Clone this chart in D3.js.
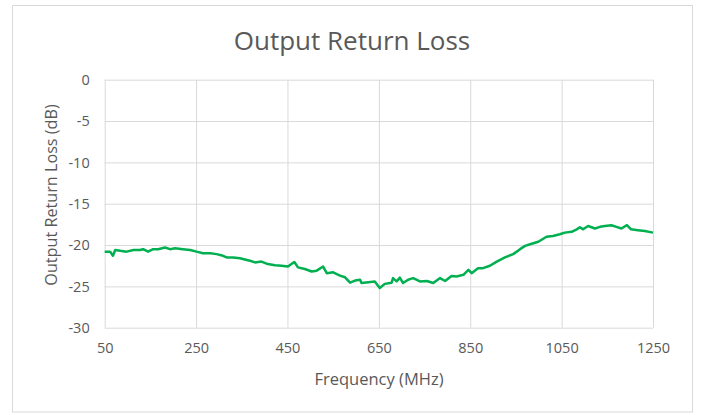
<!DOCTYPE html>
<html><head><meta charset="utf-8">
<script src="https://cdn.jsdelivr.net/npm/d3@7"></script>
<style>body{margin:0;background:#fff}svg text{font-family:"Open Sans",sans-serif;fill:#595959}</style>
</head><body><svg id="c" width="702" height="415"></svg>
<script>
const freqs = [50,62,68,73,84,98,113,127,134,145,156,167,182,193,204,221,237,251,265,281,295,309,317,331,346,361,368,379,393,407,423,437,451,465,473,488,503,514,528,536,550,565,576,587,598,609,612,627,641,652,663,678,681,689,696,703,714,725,740,755,769,784,795,809,820,835,846,853,867,878,893,908,926,944,959,970,981,999,1017,1031,1046,1057,1072,1083,1090,1097,1108,1123,1134,1145,1159,1170,1181,1193,1202,1217,1232,1250];
const returnLoss = [-20.8,-20.8,-21.3,-20.6,-20.7,-20.8,-20.6,-20.6,-20.5,-20.8,-20.5,-20.5,-20.3,-20.5,-20.4,-20.5,-20.6,-20.8,-21.0,-21.0,-21.1,-21.3,-21.5,-21.5,-21.6,-21.8,-21.9,-22.1,-22.0,-22.3,-22.45,-22.5,-22.6,-22.05,-22.7,-22.9,-23.2,-23.1,-22.6,-23.4,-23.3,-23.7,-23.9,-24.55,-24.3,-24.2,-24.6,-24.5,-24.4,-25.2,-24.7,-24.55,-24.0,-24.4,-23.95,-24.6,-24.2,-24.0,-24.4,-24.35,-24.6,-24.0,-24.35,-23.75,-23.8,-23.6,-23.0,-23.4,-22.8,-22.8,-22.5,-22.0,-21.5,-21.1,-20.5,-20.1,-19.9,-19.6,-19.0,-18.9,-18.7,-18.5,-18.4,-18.1,-17.85,-18.1,-17.7,-18.0,-17.8,-17.7,-17.6,-17.8,-18.0,-17.6,-18.1,-18.2,-18.3,-18.5];
const xTicks = [50,250,450,650,850,1050,1250];
const yTicks = [0,-5,-10,-15,-20,-25,-30];
const title = "Output Return Loss";
const xTitle = "Frequency (MHz)";
const yTitle = "Output Return Loss (dB)";

const svg = d3.select("#c");
const L=104.7,R=653,T=79.7,B=327.7;
const x = d3.scaleLinear().domain([50,1250]).range([L,R]);
const y = d3.scaleLinear().domain([-30,0]).range([B,T]);
const fmt = v => String(v).replace("\u2212","-");

svg.append("rect").attr("x",12.5).attr("y",5.5).attr("width",680).attr("height",406.5)
  .attr("fill","#fff").attr("stroke","#d9d9d9");

const gx = svg.append("g").attr("transform",`translate(0,${B})`)
  .call(d3.axisBottom(x).tickValues(xTicks).tickFormat(fmt).tickSize(-(B-T)).tickPadding(15));
const gy = svg.append("g").attr("transform",`translate(${L},0)`)
  .call(d3.axisLeft(y).tickValues(yTicks).tickFormat(fmt).tickSize(-(R-L)).tickPadding(15));
[gx,gy].forEach(g=>{
  g.select(".domain").remove();
  g.selectAll("line").attr("stroke","#d9d9d9").attr("stroke-width",1);
  g.selectAll("text").attr("font-size",14.5).attr("fill","#595959").style("font-family",'"Open Sans",sans-serif');
});

svg.append("path").datum(freqs.map((f,i)=>[f,returnLoss[i]]))
  .attr("fill","none").attr("stroke","#00b050").attr("stroke-width",2.5)
  .attr("stroke-linejoin","round")
  .attr("d",d3.line().x(d=>x(d[0])).y(d=>y(d[1])));

svg.append("text").attr("x",352).attr("y",50).attr("text-anchor","middle").attr("font-size",26).text(title);
svg.append("text").attr("x",379).attr("y",385).attr("text-anchor","middle").attr("font-size",16.5).text(xTitle);
svg.append("text").attr("transform","translate(57,195) rotate(-90)").attr("text-anchor","middle").attr("font-size",16.2).text(yTitle);
</script></body></html>
